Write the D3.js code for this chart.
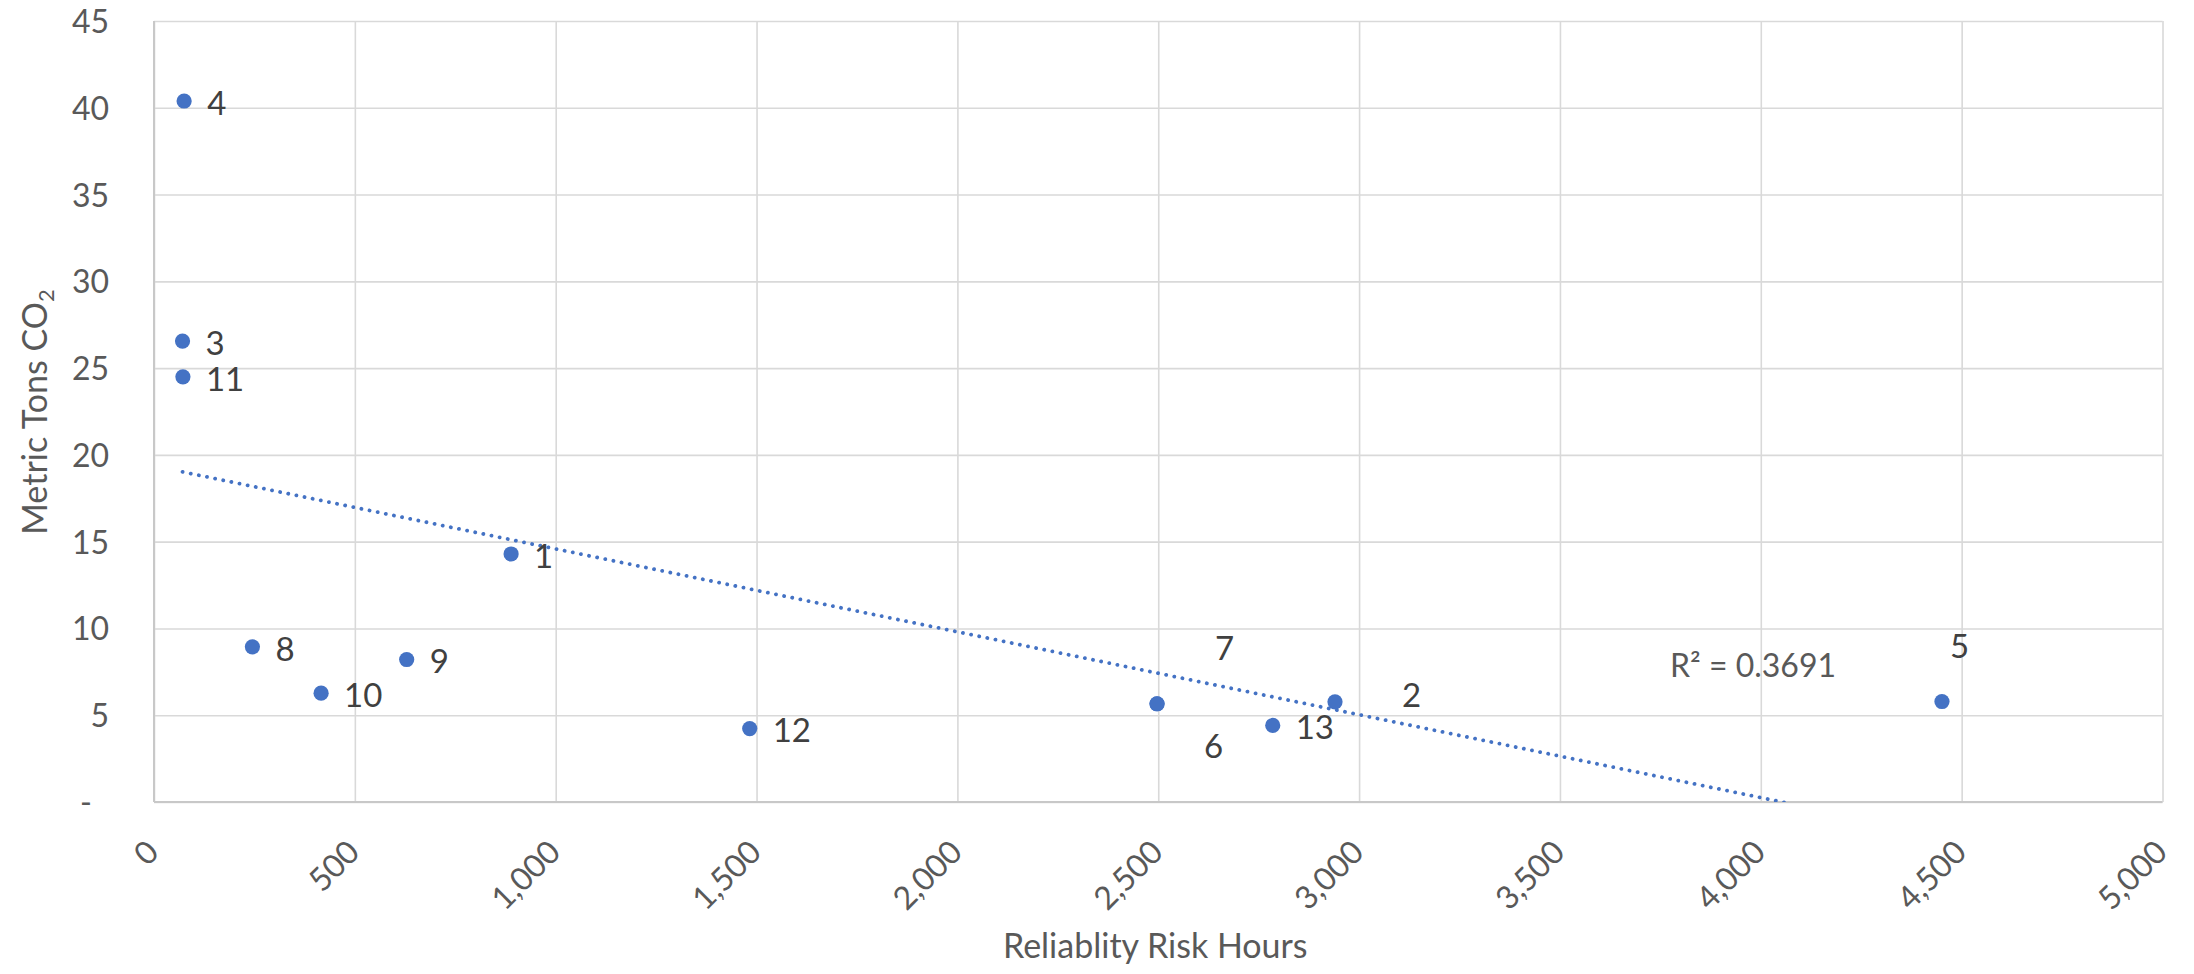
<!DOCTYPE html>
<html>
<head>
<meta charset="utf-8">
<script src="https://cdn.jsdelivr.net/npm/d3@7/dist/d3.min.js"></script>
<style>
  html, body { margin: 0; padding: 0; background: #ffffff; }
  svg { display: block; }
  text { font-family: Lato, "Open Sans", "DejaVu Sans", sans-serif; }
</style>
</head>
<body>
<svg id="chart" width="2194" height="974"></svg>
<script>
// Scenario numbers, reliability risk hours and emissions (metric tons CO2)
const scenarios = ["1", "2", "3", "4", "5", "6", "7", "8", "9", "10", "11", "12", "13"];
const riskHours = [889, 2940, 71, 75, 4451, 2497, 2497, 245, 629, 416, 72, 1483, 2785];
const tonsCO2   = [14.29, 5.77, 26.56, 40.39, 5.79, 5.66, 5.66, 8.94, 8.21, 6.27, 24.5, 4.23, 4.41];

// Axis ticks
const xTicks = [0, 500, 1000, 1500, 2000, 2500, 3000, 3500, 4000, 4500, 5000];
const yTicks = [0, 5, 10, 15, 20, 25, 30, 35, 40, 45];

// Trendline annotation
const rSquaredLabel = "R\u00B2 = 0.3691";

// Labels that were moved by hand away from the default right-hand spot (px)
const labelNudge = {
  "7": [58, -56],
  "6": [47, 42],
  "2": [67, -7],
  "5": [8, -55]
};

const svg = d3.select("#chart");
const plot = { left: 154, right: 2162.5, top: 21, bottom: 802 };

const x = d3.scaleLinear().domain([0, 5000]).range([plot.left, plot.right]);
const y = d3.scaleLinear().domain([0, 45]).range([plot.bottom, plot.top]);

const tickColor = "#595959";
const labelColor = "#404040";
const gridColor = "#d9d9d9";
const axisColor = "#c8c8c8";
const blue = "#4472C4";

// Gridlines
const gx = svg.append("g")
  .attr("transform", `translate(0,${plot.bottom})`)
  .call(d3.axisBottom(x).tickValues(xTicks).tickSize(-(plot.bottom - plot.top)).tickFormat(""));
gx.select(".domain").remove();
gx.selectAll("line").attr("stroke", gridColor).attr("stroke-width", 1.6);

const gy = svg.append("g")
  .attr("transform", `translate(${plot.left},0)`)
  .call(d3.axisLeft(y).tickValues(yTicks).tickSize(-(plot.right - plot.left)).tickFormat(""));
gy.select(".domain").remove();
gy.selectAll("line").attr("stroke", gridColor).attr("stroke-width", 1.6);

// Axis lines
svg.append("line")
  .attr("x1", plot.left).attr("x2", plot.left)
  .attr("y1", plot.top).attr("y2", plot.bottom)
  .attr("stroke", axisColor).attr("stroke-width", 2);
svg.append("line")
  .attr("x1", plot.left).attr("x2", plot.right)
  .attr("y1", plot.bottom).attr("y2", plot.bottom)
  .attr("stroke", axisColor).attr("stroke-width", 2.2);

// Y tick labels (zero shown as a dash, accounting style)
const yAxis = svg.append("g")
  .attr("transform", `translate(${plot.left},0)`)
  .call(d3.axisLeft(y).tickValues(yTicks).tickSize(0).tickPadding(45)
    .tickFormat(d => d === 0 ? "-" : d3.format("d")(d)));
yAxis.select(".domain").remove();
yAxis.selectAll("text")
  .attr("fill", tickColor)
  .attr("font-size", 32)
  .attr("dy", "0.36em")
  .attr("dx", d => d === 0 ? -17 : 0);

// X tick labels, rotated
const xAxis = svg.append("g")
  .attr("transform", `translate(0,${plot.bottom})`)
  .call(d3.axisBottom(x).tickValues(xTicks).tickSize(0).tickFormat(d3.format(",")));
xAxis.select(".domain").remove();
xAxis.selectAll("text")
  .attr("fill", tickColor)
  .attr("font-size", 32)
  .attr("x", 0).attr("y", 0)
  .attr("dy", "0.36em")
  .attr("text-anchor", "end")
  .attr("transform", "translate(-2,44) rotate(-45)");

// Axis titles
svg.append("text")
  .attr("x", (plot.left + plot.right) / 2 - 3)
  .attr("y", 958)
  .attr("text-anchor", "middle")
  .attr("font-size", 34)
  .attr("fill", tickColor)
  .text("Reliablity Risk Hours");

const yTitle = svg.append("text")
  .attr("transform", "translate(47,412) rotate(-90)")
  .attr("text-anchor", "middle")
  .attr("font-size", 34)
  .attr("fill", tickColor);
yTitle.append("tspan").text("Metric Tons CO");
yTitle.append("tspan").attr("font-size", 22).attr("dy", "0.3em").text("2");

// Linear least-squares trendline
const n = riskHours.length;
const mx = d3.mean(riskHours), my = d3.mean(tonsCO2);
let sxy = 0, sxx = 0;
for (let i = 0; i < n; i++) {
  sxy += (riskHours[i] - mx) * (tonsCO2[i] - my);
  sxx += (riskHours[i] - mx) ** 2;
}
const slope = sxy / sxx;
const intercept = my - slope * mx;
const xMin = d3.min(riskHours), xMax = d3.max(riskHours);

svg.append("clipPath").attr("id", "plot-clip")
  .append("rect")
  .attr("x", plot.left).attr("y", plot.top)
  .attr("width", plot.right - plot.left).attr("height", plot.bottom - plot.top);

svg.append("line")
  .attr("clip-path", "url(#plot-clip)")
  .attr("x1", x(xMin)).attr("y1", y(intercept + slope * xMin))
  .attr("x2", x(xMax)).attr("y2", y(intercept + slope * xMax))
  .attr("stroke", blue)
  .attr("stroke-width", 3.8)
  .attr("stroke-linecap", "round")
  .attr("stroke-dasharray", "0.1 8.2");

svg.append("text")
  .attr("x", 1670).attr("y", 677)
  .attr("font-size", 32)
  .attr("fill", tickColor)
  .text(rSquaredLabel);

// Points
const pts = scenarios.map((s, i) => ({ s, x: riskHours[i], y: tonsCO2[i] }));

svg.append("g").selectAll("circle")
  .data(pts)
  .join("circle")
  .attr("cx", d => x(d.x))
  .attr("cy", d => y(d.y))
  .attr("r", 7.6)
  .attr("fill", blue);

// Point labels
svg.append("g").selectAll("text")
  .data(pts)
  .join("text")
  .attr("x", d => x(d.x) + (labelNudge[d.s] ? labelNudge[d.s][0] : 23))
  .attr("y", d => y(d.y) + (labelNudge[d.s] ? labelNudge[d.s][1] : 2))
  .attr("dy", "0.36em")
  .attr("font-size", 33)
  .attr("fill", labelColor)
  .text(d => d.s);
</script>
</body>
</html>
